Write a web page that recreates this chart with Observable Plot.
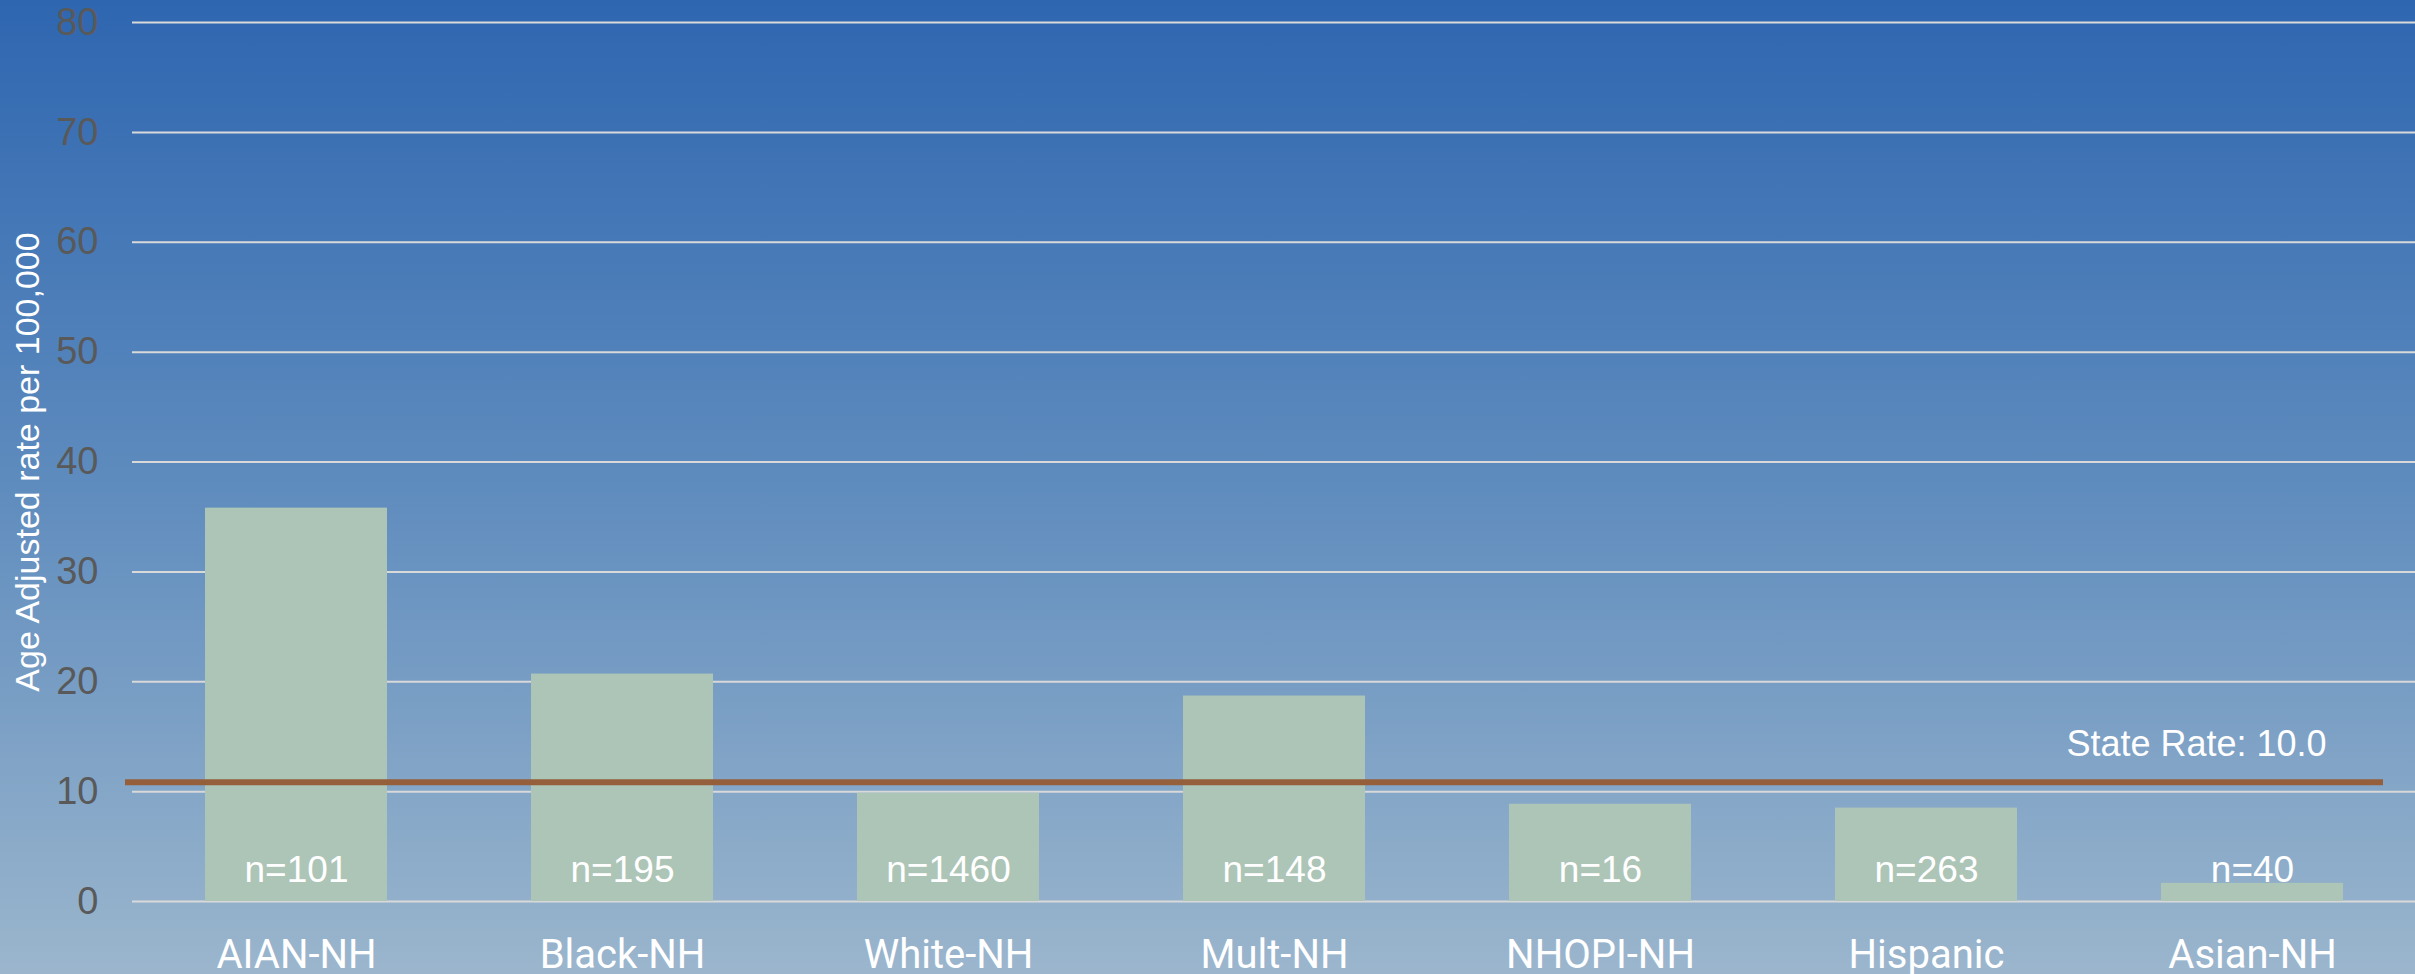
<!DOCTYPE html>
<html>
<head>
<meta charset="utf-8">
<script src="https://cdn.jsdelivr.net/npm/d3@7"></script>
<script src="https://cdn.jsdelivr.net/npm/@observablehq/plot@0.6"></script>
<style>
  html, body { margin: 0; padding: 0; background: #6f97c4; }
  #chart svg { display: block; }
</style>
</head>
<body>
<div id="chart"></div>
<script>
const categories = ["AIAN-NH", "Black-NH", "White-NH", "Mult-NH", "NHOPI-NH", "Hispanic", "Asian-NH"];
const rates = [35.8, 20.7, 9.85, 18.7, 8.85, 8.5, 1.65];
const counts = ["n=101", "n=195", "n=1460", "n=148", "n=16", "n=263", "n=40"];
const yTicks = [0, 10, 20, 30, 40, 50, 60, 70, 80];
const stateRateLine = 10.85;
const stateRateLabel = "State Rate: 10.0";
const yLabel = "Age Adjusted rate per 100,000";

const data = categories.map((c, i) => ({category: c, rate: rates[i], n: counts[i]}));

const chart = Plot.plot({
  width: 2415,
  height: 974,
  marginLeft: 132,
  marginRight: 0,
  marginTop: 22,
  marginBottom: 73,
  style: {
    background: "linear-gradient(to bottom, #2E66B0 0%, #5F8CBE 50%, #9BB6CD 100%)",
    fontFamily: "'Liberation Sans', Arial, sans-serif",
    overflow: "visible"
  },
  x: {domain: categories, paddingInner: 0.442, paddingOuter: 0.221, align: 0.5},
  y: {domain: [0, 80]},
  marks: [
    Plot.gridY(yTicks, {stroke: "#D9D9D9", strokeOpacity: 1, strokeWidth: 2}),
    Plot.axisY(yTicks, {tickSize: 0, tickPadding: 34, fontSize: 38, color: "#595959", label: null}),
    Plot.axisX({tickSize: 0, tickPadding: 38, fontSize: 40, color: "#FFFFFF", label: null,
      fontFamily: "Roboto, 'Liberation Sans', Arial, sans-serif"}),
    Plot.barY(data, {x: "category", y: "rate", fill: "#ADC5B7"}),
    Plot.ruleY([stateRateLine], {stroke: "#955F3C", strokeWidth: 6, insetLeft: -7, insetRight: 32}),
    Plot.text(data, {x: "category", y: 0, text: "n", dy: -20, lineAnchor: "bottom",
      fill: "#FFFFFF", fontSize: 37}),
    Plot.text([stateRateLabel], {x: () => categories[categories.length - 1], y: () => stateRateLine,
      text: d => d, dx: -56, dy: -26.5, lineAnchor: "bottom", fill: "#FFFFFF", fontSize: 36}),
    Plot.text([yLabel], {frameAnchor: "left", text: d => d, rotate: -90, dx: -104,
      textAnchor: "middle", lineAnchor: "middle", fill: "#FFFFFF", fontSize: 34})
  ]
});
document.getElementById("chart").append(chart);
</script>
</body>
</html>
